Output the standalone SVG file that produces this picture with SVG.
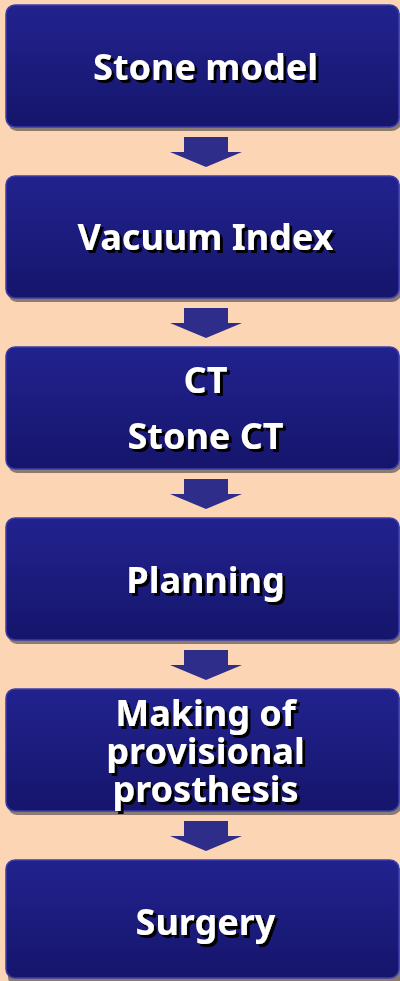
<svg xmlns="http://www.w3.org/2000/svg" width="400" height="981" viewBox="0 0 400 981">
<defs>
<linearGradient id="g" x1="0" y1="0" x2="0" y2="1">
<stop offset="0" stop-color="#22228f"/>
<stop offset="1" stop-color="#15156c"/>
</linearGradient>
<filter id="ds" x="-10%" y="-20%" width="120%" height="150%">
<feOffset in="SourceAlpha" dx="2.5" dy="2.5" result="o"/>
<feFlood flood-color="#000000"/>
<feComposite in2="o" operator="in" result="s"/>
<feMerge><feMergeNode in="s"/><feMergeNode in="SourceGraphic"/></feMerge>
</filter>
<style>
.box{fill:url(#g);stroke:#3d3da6;stroke-width:1.5}
.sh{fill:#8c7b70}
.arr{fill:#2e2e8a}
.t{font-family:"Noto Sans","Open Sans",sans-serif;font-weight:bold;font-size:36px;text-anchor:middle;fill:#ffffff;filter:url(#ds)}
</style>
</defs>
<rect width="400" height="981" fill="#fcd5b4"/>
<g id="connectors">
<polygon class="arr" points="184,137 228,137 228,152 242,152 206,167 170,152 184,152"/>
<polygon class="arr" points="184,308 228,308 228,323 242,323 206,338 170,323 184,323"/>
<polygon class="arr" points="184,479 228,479 228,494 242,494 206,509 170,494 184,494"/>
<polygon class="arr" points="184,650 228,650 228,665 242,665 206,680 170,665 184,665"/>
<polygon class="arr" points="184,821 228,821 228,836 242,836 206,851 170,836 184,836"/>
</g>
<g id="n1">
<rect class="sh" x="8" y="9" width="393" height="122" rx="9"/>
<rect class="box" x="6" y="5" width="393" height="122" rx="9"/>
<text class="t" x="205.5" y="80">Stone model</text>
</g>
<g id="n2">
<rect class="sh" x="8" y="180" width="393" height="122" rx="9"/>
<rect class="box" x="6" y="176" width="393" height="122" rx="9"/>
<text class="t" x="205.5" y="250">Vacuum Index</text>
</g>
<g id="n3">
<rect class="sh" x="8" y="351" width="393" height="122" rx="9"/>
<rect class="box" x="6" y="347" width="393" height="122" rx="9"/>
<text class="t" x="205.5" y="393">CT</text>
<text class="t" x="205.5" y="449">Stone CT</text>
</g>
<g id="n4">
<rect class="sh" x="8" y="522" width="393" height="122" rx="9"/>
<rect class="box" x="6" y="518" width="393" height="122" rx="9"/>
<text class="t" x="205.5" y="593">Planning</text>
</g>
<g id="n5">
<rect class="sh" x="8" y="693" width="393" height="122" rx="9"/>
<rect class="box" x="6" y="689" width="393" height="122" rx="9"/>
<text class="t" x="205.5" y="726">Making of</text>
<text class="t" x="205.5" y="764">provisional</text>
<text class="t" x="205.5" y="802">prosthesis</text>
</g>
<g id="n6">
<rect class="sh" x="8" y="864" width="393" height="122" rx="9"/>
<rect class="box" x="6" y="860" width="393" height="118" rx="9"/>
<text class="t" x="205.5" y="935">Surgery</text>
</g>
</svg>
